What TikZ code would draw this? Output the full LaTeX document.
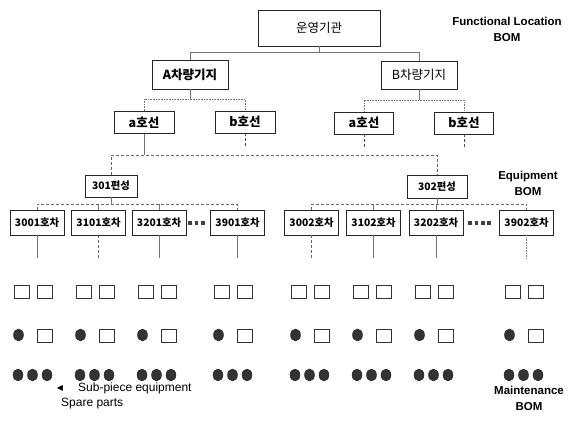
\documentclass[tikz,border=0pt]{standalone}
\usepackage{fontspec}
\setmainfont{Liberation Sans}
\newfontfamily\kr{Noto Sans CJK KR}
\newfontfamily\dejavu{DejaVu Sans}
\usetikzlibrary{shapes.geometric}
\begin{document}
\begin{tikzpicture}[x=1pt,y=-1pt,
  box/.style={draw=black!85, line width=0.9pt, fill=white, inner sep=0pt},
  krbig/.style={font={\kr\fontsize{12.5}{14}\selectfont}},
  krbold/.style={font={\kr\bfseries\fontsize{12.5}{14}\selectfont}},
  krsmall/.style={font={\kr\bfseries\fontsize{10.3}{12}\selectfont}},
  carbox/.style={box, krsmall, minimum width=54pt, minimum height=25pt},
  linebox/.style={box, krbold, minimum width=59pt, minimum height=22pt},
  conn/.style={draw=black!55, line width=0.6pt},
  conndash/.style={draw=black!60, line width=0.6pt, densely dashed},
  conndot/.style={draw=black!55, line width=0.6pt, densely dotted},
  stub/.style={draw=black!70, line width=0.7pt, dash pattern=on 3pt off 2pt},
  sqr/.style={draw=black!80, line width=0.8pt, fill=white, minimum width=15pt, minimum height=13pt, inner sep=0pt},
  blob/.style={ellipse, draw=black!90, fill=black!80, line width=0.4pt, minimum width=10pt, minimum height=12pt, inner sep=0pt},
  dotsq/.style={fill=black!75, minimum size=3.5pt, inner sep=0pt},
  bomlab/.style={font={\bfseries\fontsize{11.5}{16}\selectfont}, align=center, inner sep=0pt},
  notelab/.style={font={\fontsize{12}{14}\selectfont}, anchor=west, inner sep=0pt}
]
\useasboundingbox (0,0) rectangle (581,433);

% ---- functional location tree ----
\node[box, krbig, minimum width=122pt, minimum height=36pt] (top) at (319,28) {운영기관};
\node[box, krbold, minimum width=76pt, minimum height=29pt] (A) at (190,74.5) {A차량기지};
\node[box, krbig, minimum width=76pt, minimum height=28pt] (B) at (419,75) {B차량기지};
\node[linebox, minimum width=60pt] (aA) at (144,122.5) {a호선};
\node[linebox, minimum width=60pt] (bA) at (245,122) {b호선};
\node[linebox] (aB) at (364,123) {a호선};
\node[linebox] (bB) at (464,123) {b호선};

% ---- equipment ----
\node[box, krsmall, minimum width=52pt, minimum height=22pt] (p301) at (111,186) {301편성};
\node[box, krsmall, minimum width=60pt, minimum height=23pt] (p302) at (437,186.5) {302편성};

\foreach \n/\x in {3001/37, 3101/98.5, 3201/159, 3901/237.5, 3002/311.5, 3102/373.5, 3202/436, 3902/526.5}
  \node[carbox] (c\n) at (\x,222.5) {{\n}호차};

% ---- bus levels ----
\coordinate (busTop) at (0,52);
\coordinate (busA) at (0,99);
\coordinate (busB) at (0,100);
\coordinate (busP) at (0,155);
\coordinate (busC) at (0,204);

\draw[conn] (top.south) -- (top.south |- busTop);
\draw[conn] (A.north) -- (A.north |- busTop) -- (B.north |- busTop) -- (B.north);

\draw[conn] (A.south) -- (A.south |- busA);
\draw[conndot] (aA.north) -- (aA.north |- busA) -- (bA.north |- busA) -- (bA.north);
\draw[conn] (B.south) -- (B.south |- busB);
\draw[conndot] (aB.north) -- (aB.north |- busB) -- (bB.north |- busB) -- (bB.north);

\draw[stub] (bA.south) -- ++(0,13);
\draw[stub] (aB.south) -- ++(0,13);
\draw[stub] (bB.south) -- ++(0,13);

\draw[conn] (aA.south) -- (aA.south |- busP);
\draw[conndash] (p301.north) -- (p301.north |- busP) -- (p302.north |- busP) -- (p302.north);

\draw[conn] (p301.south) -- (p301.south |- busC);
\draw[conndash] (c3001.north) -- (c3001.north |- busC) -- (c3901.north |- busC) -- (c3901.north);
\draw[conn] (c3101.north) -- (c3101.north |- busC);
\draw[conn] (c3201.north) -- (c3201.north |- busC);

\draw[conn] (p302.south) -- (p302.south |- busC);
\draw[conndash] (c3002.north) -- (c3002.north |- busC) -- (c3902.north |- busC) -- (c3902.north);
\draw[conn] (c3102.north) -- (c3102.north |- busC);
\draw[conn] (c3202.north) -- (c3202.north |- busC);

\draw[conn] (c3001.south) -- ++(0,23);
\draw[conndash] (c3101.south) -- ++(0,23);
\draw[conn] (c3201.south) -- ++(0,23);
\draw[conn] (c3901.south) -- ++(0,23);
\draw[conndash] (c3002.south) -- ++(0,23);
\draw[conn] (c3102.south) -- ++(0,23);
\draw[conn] (c3202.south) -- ++(0,23);
\draw[conndot] (c3902.south) -- ++(0,23);

% ---- ellipsis marks between cars ----
\foreach \x [count=\i] in {190,196.5,203}
  \node[dotsq] (dl\i) at (\x,223) {};
\foreach \x [count=\i] in {470,476.5,483,489}
  \node[dotsq] (dr\i) at (\x,223) {};

% ---- sub-pieces and spare parts ----
\foreach \g [count=\i] in {14,76,138,214,291,353,415,505} {
  \node[sqr] (sa\i) at (\g+7.5,291.5) {};
  \node[sqr] (sb\i) at (\g+31,291.5) {};
  \node[blob] (ma\i) at (\g+4.5,335) {};
  \node[sqr] (mb\i) at (\g+31,335.5) {};
  \node[blob] (ra\i) at (\g+4,375) {};
  \node[blob] (rb\i) at (\g+18.5,375) {};
  \node[blob] (rc\i) at (\g+33,375) {};
}

% ---- labels ----
\node[bomlab] (flbom) at (507,29.5) {Functional Location\\BOM};
\node[bomlab] (eqbom) at (528,183.5) {Equipment\\BOM};
\node[bomlab] (mtbom) at (529,398.5) {Maintenance\\BOM};
\node[font={\dejavu\fontsize{8}{9}\selectfont}, inner sep=0pt] (tri) at (60,388) {◀};
\node[notelab] (subp) at (78,388) {Sub-piece equipment};
\node[notelab] (spare) at (61,404) {Spare parts};
\end{tikzpicture}
\end{document}
